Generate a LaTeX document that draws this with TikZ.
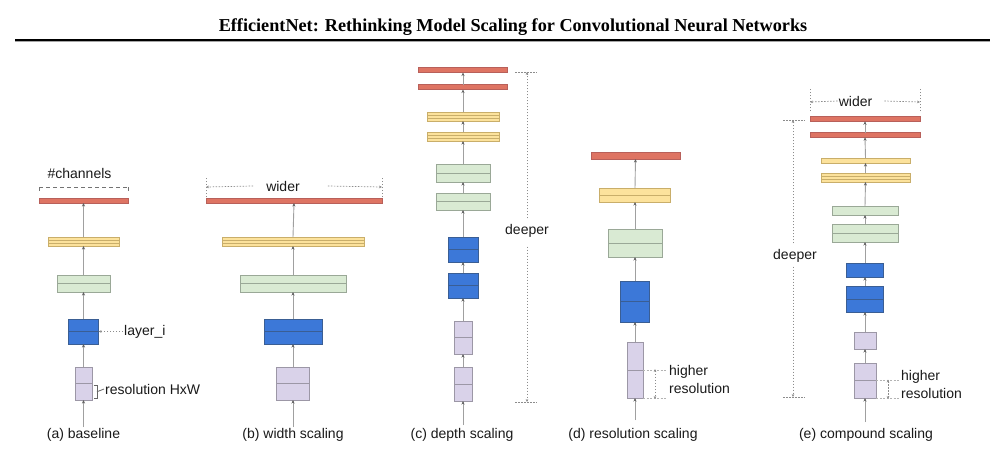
\documentclass[tikz,border=0pt]{standalone}
\usepackage{fontspec}
\setmainfont{Liberation Sans}
\newfontfamily\titlefont{Liberation Serif}
\usetikzlibrary{arrows.meta,calc}
\definecolor{cred}{HTML}{DE7463}
\definecolor{credD}{HTML}{B8605A}
\definecolor{cyel}{HTML}{FCE29C}
\definecolor{cyelD}{HTML}{C9AE6A}
\definecolor{cgrn}{HTML}{D9EAD3}
\definecolor{cgrnD}{HTML}{9AA897}
\definecolor{cblu}{HTML}{3C78D8}
\definecolor{cbluD}{HTML}{3A5E94}
\definecolor{cpur}{HTML}{D9D2E9}
\definecolor{cpurD}{HTML}{9C97A6}
\definecolor{cline}{HTML}{A0A0A0}
\definecolor{ctip}{HTML}{606060}
\definecolor{cdot}{HTML}{8C8C8C}
\definecolor{ctxt}{HTML}{1A1A1A}
\tikzset{
  blk/.style={inner sep=0pt, outer sep=0pt, line width=0.8pt},
  rd/.style={blk, fill=cred, draw=credD},
  ye/.style={blk, fill=cyel, draw=cyelD},
  gr/.style={blk, fill=cgrn, draw=cgrnD},
  bl/.style={blk, fill=cblu, draw=cbluD},
  pu/.style={blk, fill=cpur, draw=cpurD},
  one/.style={path picture={\draw[line width=1pt, draw=#1] (path picture bounding box.west) -- (path picture bounding box.east);}},
  two/.style={path picture={
     \draw[line width=0.9pt, draw=#1] ([yshift=1.5pt]path picture bounding box.west) -- ([yshift=1.5pt]path picture bounding box.east);
     \draw[line width=0.9pt, draw=#1] ([yshift=-1.5pt]path picture bounding box.west) -- ([yshift=-1.5pt]path picture bounding box.east);}},
  conn/.style={draw=cline, line width=0.9pt, -{Stealth[length=3.5pt,width=3pt,color=ctip]}},
  lbl/.style={font=\fontsize{14}{16}\selectfont, text=ctxt, inner sep=1pt},
  dt/.style={draw=cdot, line width=0.7pt, dash pattern=on 1.5pt off 1.5pt},
  dta/.style={dt, -{Stealth[length=3pt,width=2.6pt,color=cdot]}},
  dtb/.style={dt, {Stealth[length=3pt,width=2.6pt,color=cdot]}-{Stealth[length=3pt,width=2.6pt,color=cdot]}},
  lgd/.style={draw=cline!80, line width=0.7pt, dash pattern=on 2pt off 1.5pt},
}
\begin{document}
\begin{tikzpicture}[x=1pt,y=-1pt]
\useasboundingbox (0,0) rectangle (990,458);
\fill[white] (0,0) rectangle (990,458);
% title
\node[font=\titlefont\bfseries\fontsize{18.2}{20}\selectfont, inner sep=0pt] (title) at (513,27) {EfficientNet: Rethinking Model Scaling for Convolutional Neural Networks};
\coordinate (ruleL) at (15,40);
\coordinate (ruleR) at (990,40);
\draw[black, line width=1.8pt] (ruleL) -- (ruleR);
\draw[gray!70, line width=0.9pt] ([yshift=-1.9pt]ruleL) -- ([yshift=-1.9pt]ruleR);

% ===== (a) baseline =====
\coordinate (a0) at (83.5,427);
\node[pu, one=cpurD, minimum width=17pt, minimum height=33pt] (a1) at (83.5,383.5) {};
\node[bl, one=cbluD, minimum width=30pt, minimum height=25pt] (a2) at (83.5,331.5) {};
\node[gr, one=cgrnD, minimum width=53pt, minimum height=17pt] (a3) at (83.5,283.5) {};
\node[ye, two=cyelD, minimum width=71pt, minimum height=9pt] (a4) at (83.5,241.5) {};
\node[rd, minimum width=89pt, minimum height=5pt] (a5) at (83.5,200.5) {};
\draw[conn] (a0) -- (a1.south);
\draw[conn] (a1.north) -- (a2.south);
\draw[conn] (a2.north) -- (a3.south);
\draw[conn] (a3.north) -- (a4.south);
\draw[conn] (a4.north) -- (a5.south);
\node[lbl] (la) at (83.5,435) {(a) baseline};
% #channels
\coordinate (chL) at (39,187);
\coordinate (chR) at (128,187);
\coordinate (chM) at (83.5,187);
\draw[draw=gray!90!black, line width=0.8pt, dash pattern=on 4pt off 3pt] (chL) -- (chR);
\draw[draw=gray!90!black, line width=0.8pt] (chL) -- ++(0,4) (chR) -- ++(0,4);
\draw[-{Stealth[length=3pt,width=3pt,color=gray]}, draw=none] ([yshift=-3pt]chM) -- (chM);
\node[lbl] (chan) at (79.5,173) {\#channels};
% layer_i
\node[lbl, anchor=west] (layer) at (123,331.5) {layer\_i};
\draw[dta] (layer.west) -- (a2.east);
% resolution HxW
\node[lbl, anchor=west] (resHW) at (104,389) {resolution HxW};
\draw[draw=gray!80!black, line width=0.8pt] ([xshift=1.5pt,yshift=-1.5pt]a1.east) -- ++(3.5,0) |- ([xshift=1.5pt,yshift=1.5pt]a1.south east);
\draw[draw=gray!80!black, line width=0.8pt] ($([xshift=5pt]a1.east)!0.5!([xshift=5pt]a1.south east)$) -- (resHW.west);

% ===== (b) width scaling =====
\coordinate (b0) at (293,427);
\node[pu, one=cpurD, minimum width=33pt, minimum height=33pt] (b1) at (293,383.5) {};
\node[bl, one=cbluD, minimum width=58pt, minimum height=25pt] (b2) at (293,331.5) {};
\node[gr, one=cgrnD, minimum width=106pt, minimum height=17pt] (b3) at (293,283.5) {};
\node[ye, two=cyelD, minimum width=142pt, minimum height=9pt] (b4) at (293,241.5) {};
\node[rd, minimum width=176pt, minimum height=5pt] (b5) at (294,200.5) {};
\draw[conn] (b0) -- (b1.south);
\draw[conn] (b1.north) -- (b2.south);
\draw[conn] (b2.north) -- (b3.south);
\draw[conn] (b3.north) -- (b4.south);
\draw[conn] (b4.north) -- (b5.south);
\node[lbl] (lb) at (293,435) {(b) width scaling};
\node[lbl] (wider1) at (283,186) {wider};
\coordinate (bwL) at (206,187);
\coordinate (bwR) at (382,187);
\draw[dt] ([yshift=-10pt]bwL) -- ([yshift=9pt]bwL);
\draw[dt] ([yshift=-10pt]bwR) -- ([yshift=9pt]bwR);
\draw[dta] ([xshift=-12pt]wider1.west) -- (bwL);
\draw[dta] ([xshift=27pt]wider1.east) -- (bwR);

% ===== (c) depth scaling =====
\coordinate (c0) at (463,425);
\node[pu, one=cpurD, minimum width=18pt, minimum height=34pt] (c1) at (463,384) {};
\node[pu, one=cpurD, minimum width=18pt, minimum height=33pt] (c2) at (463,337.5) {};
\node[bl, one=cbluD, minimum width=30pt, minimum height=25pt] (c3) at (463,285.5) {};
\node[bl, one=cbluD, minimum width=30pt, minimum height=25pt] (c4) at (463,249.5) {};
\node[gr, one=cgrnD, minimum width=54pt, minimum height=17pt] (c5) at (463,201.5) {};
\node[gr, one=cgrnD, minimum width=54pt, minimum height=18pt] (c6) at (463,173) {};
\node[ye, two=cyelD, minimum width=72pt, minimum height=9pt] (c7) at (463,136.5) {};
\node[ye, two=cyelD, minimum width=72pt, minimum height=9pt] (c8) at (463,116.5) {};
\node[rd, minimum width=89pt, minimum height=5pt] (c9) at (463,87) {};
\node[rd, minimum width=89pt, minimum height=5pt] (c10) at (463,70) {};
\draw[conn] (c0) -- (c1.south);
\foreach \i/\j in {1/2,2/3,3/4,4/5,5/6,6/7,7/8,8/9,9/10}{\draw[conn] (c\i.north) -- (c\j.south);}
\node[lbl] (lc) at (462,435) {(c) depth scaling};
\node[lbl] (cdeep) at (527,231) {deeper};
\coordinate (cdTop) at (527,72);
\coordinate (cdBot) at (527,402);
\draw[dt] ([xshift=-12pt]cdTop) -- ([xshift=10pt]cdTop);
\draw[dt] ([xshift=-12pt]cdBot) -- ([xshift=10pt]cdBot);
\draw[dta] ([yshift=5pt]cdeep.north) -- (cdTop);
\draw[dta] ([yshift=-8pt]cdeep.south) -- (cdBot);

% ===== (d) resolution scaling =====
\coordinate (d0) at (635,420);
\node[pu, one=cpurD, minimum width=16pt, minimum height=56pt] (d1) at (635,370) {};
\node[bl, one=cbluD, minimum width=29pt, minimum height=41pt] (d2) at (635,301.5) {};
\node[gr, one=cgrnD, minimum width=54pt, minimum height=28pt] (d3) at (635,243) {};
\node[ye, one=cyelD, minimum width=71pt, minimum height=14pt] (d4) at (635,195) {};
\node[rd, minimum width=89pt, minimum height=7pt] (d5) at (635.5,155.5) {};
\draw[conn] (d0) -- (d1.south);
\draw[conn] (d1.north) -- (d2.south);
\draw[conn] (d2.north) -- (d3.south);
\draw[conn] (d3.north) -- (d4.south);
\draw[conn] (d4.north) -- (d5.south);
\node[lbl] (ld) at (633,435) {(d) resolution scaling};
\coordinate (dhT) at (667,370);
\coordinate (dhB) at (667,398);
\draw[lgd] (d1.east) -- (dhT);
\draw[lgd] (d1.south east) -- (dhB);
\draw[dtb] ([xshift=-12pt,yshift=1pt]dhT) -- ([xshift=-12pt,yshift=-1pt]dhB);
\node[lbl, anchor=west] (dhi) at (668,372) {higher};
\node[lbl, anchor=west] (dres) at (668,388) {resolution};

% ===== (e) compound scaling =====
\coordinate (e0) at (865,422);
\node[pu, one=cpurD, minimum width=22pt, minimum height=35pt] (e1) at (865,380.5) {};
\node[pu, minimum width=22pt, minimum height=17pt] (e2) at (865,340.5) {};
\node[bl, one=cbluD, minimum width=37pt, minimum height=26pt] (e3) at (865,299) {};
\node[bl, minimum width=37pt, minimum height=14pt] (e4) at (865,270) {};
\node[gr, one=cgrnD, minimum width=66pt, minimum height=18pt] (e5) at (865,233) {};
\node[gr, minimum width=66pt, minimum height=9pt] (e6) at (865,210.5) {};
\node[ye, two=cyelD, minimum width=89pt, minimum height=9pt] (e7) at (865.5,177.5) {};
\node[ye, minimum width=89pt, minimum height=5pt] (e8) at (865.5,160.5) {};
\node[rd, minimum width=110pt, minimum height=4.5pt] (e9) at (865,135) {};
\node[rd, minimum width=110pt, minimum height=4.5pt] (e10) at (865,119) {};
\draw[conn] (e0) -- (e1.south);
\foreach \i/\j in {1/2,2/3,3/4,4/5,5/6,6/7,7/8,8/9,9/10}{\draw[conn] (e\i.north) -- (e\j.south);}
\node[lbl] (le) at (866,435) {(e) compound scaling};
% wider
\node[lbl] (wider2) at (855.5,101) {wider};
\coordinate (ewL) at (810,102);
\coordinate (ewR) at (920,102);
\draw[dt] ([yshift=-9pt]ewL) -- ([yshift=15pt]ewL);
\draw[dt] ([yshift=-9pt]ewR) -- ([yshift=15pt]ewR);
\draw[dta] (wider2.west) -- (ewL);
\draw[dta] ([xshift=11pt]wider2.east) -- (ewR);
% deeper
\node[lbl] (edeep) at (795,256) {deeper};
\coordinate (edTop) at (793,120);
\coordinate (edBot) at (793,397);
\draw[dt] ([xshift=-10pt]edTop) -- ([xshift=12pt]edTop);
\draw[dt] ([xshift=-10pt]edBot) -- ([xshift=12pt]edBot);
\draw[dta] ([xshift=-2pt,yshift=5pt]edeep.north) -- (edTop);
\draw[dta] ([xshift=-2pt,yshift=-3pt]edeep.south) -- (edBot);
% higher resolution
\coordinate (ehT) at (900,380.5);
\coordinate (ehB) at (900,398);
\draw[lgd] (e1.east) -- (ehT);
\draw[lgd] (e1.south east) -- (ehB);
\draw[dtb] ([xshift=-12pt,yshift=1pt]ehT) -- ([xshift=-12pt,yshift=-1pt]ehB);
\node[lbl, anchor=west] (ehi) at (900,377) {higher};
\node[lbl, anchor=west] (eres) at (900,393) {resolution};
\end{tikzpicture}
\end{document}
